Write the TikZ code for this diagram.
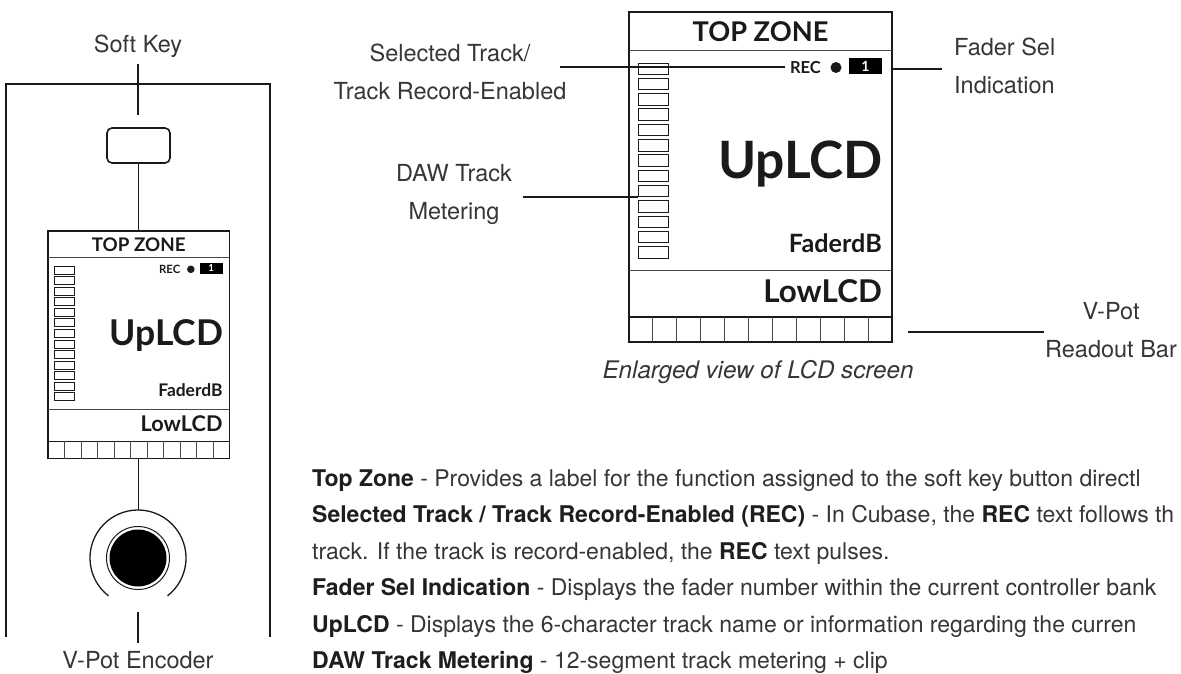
\documentclass[tikz,border=0pt]{standalone}
\usepackage{fontspec}
\setmainfont{TeX Gyre Heros}
\newfontfamily\lcdfont{Lato}
\usetikzlibrary{positioning, calc}
\definecolor{LabelGrey}{HTML}{363636}
\definecolor{BoldGrey}{HTML}{1E1E1E}
\definecolor{LineBlack}{HTML}{1A1A1A}
\tikzset{
    % Callout text
    calloutlabel/.style={
        font=\fontsize{23.5}{38}\selectfont,
        text=LabelGrey,
        inner sep=0pt,
        align=center
    },
    captiontext/.style={
        font=\fontsize{24.2}{24.2}\selectfont\itshape,
        text=LabelGrey,
        inner sep=0pt
    },
    bodytext/.style={
        font=\fontsize{23}{23}\selectfont,
        text=LabelGrey,
        anchor=base west,
        inner sep=0pt
    },
    % Line styles
    calloutline/.style={
        line width=2pt,
        LineBlack
    },
    thinline/.style={
        line width=1pt,
        LineBlack
    },
    frameline/.style={
        line width=2pt,
        LineBlack
    },
    % LCD styles
    lcdframe/.style={
        rectangle,
        draw=LineBlack,
        line width=1.5pt,
        inner sep=0pt,
        outer sep=0pt
    },
    lcdrule/.style={
        line width=0.9pt,
        LineBlack!80
    },
    lcdtext/.style={
        inner sep=0pt,
        text=LineBlack
    },
    meterseg/.style={
        rectangle,
        draw=LineBlack,
        line width=1pt,
        minimum width=30pt,
        minimum height=11.5pt,
        inner sep=0pt,
        outer sep=0pt,
        anchor=north west
    },
    softkeybox/.style={
        rectangle,
        rounded corners=5pt,
        draw=LineBlack,
        line width=1.6pt,
        minimum width=63pt,
        minimum height=35pt
    }
}

% LCD screen, drawn with its top left corner at the origin
\newcommand{\drawlcd}[1]{%
    % Frame
    \node[lcdframe, anchor=north west, minimum width=263pt, minimum height=330pt] (#1frame) at (0,0) {};
    % Top zone
    \draw[lcdrule] (0,38) -- (263,38);
    \node[lcdtext, font=\lcdfont\bfseries\fontsize{27.2}{27.2}\selectfont] (#1top) at (131.5,20) {TOP ZONE};
    % Rec and fader number
    \node[lcdtext, anchor=east, font=\lcdfont\bfseries\fontsize{16.5}{16.5}\selectfont] (#1rec) at (192,56) {REC};
    \node[circle, fill=LineBlack, minimum size=11pt, inner sep=0pt] (#1dot) at (207,55.5) {};
    \node[rectangle, fill=black, minimum width=33pt, minimum height=16pt, inner sep=0pt,
          text=white, font=\lcdfont\bfseries\fontsize{14}{14}\selectfont] (#1num) at (236.5,54) {1};
    % Metering
    \foreach \k in {0,...,12}
        \node[meterseg] (#1seg\k) at (9,51+\k*15.3) {};
    % UpLCD and fader level
    \node[lcdtext, anchor=base east, font=\lcdfont\bfseries\fontsize{51.5}{51.5}\selectfont] (#1up) at (254,166) {UpLCD};
    \node[lcdtext, anchor=base east, font=\lcdfont\bfseries\fontsize{25.2}{25.2}\selectfont] (#1fader) at (253,240) {FaderdB};
    \draw[lcdrule] (0,258) -- (263,258);
    % Lower zone
    \node[lcdtext, anchor=base east, font=\lcdfont\bfseries\fontsize{31.4}{31.4}\selectfont] (#1low) at (253,290) {LowLCD};
    % Readout bar
    \node[lcdframe, anchor=north west, minimum width=263pt, minimum height=25pt] (#1bar) at (0,305) {};
    \foreach \i in {1,...,10}
        \draw[lcdrule] (\i*23.909,305) -- (\i*23.909,330);
}

\begin{document}
\begin{tikzpicture}[x=1pt, y=-1pt]
    \useasboundingbox (0,0) rectangle (1181,673);
    \fill[white] (0,0) rectangle (1181,673);

    % Channel strip
    \draw[frameline] (6,637) -- (6,84) -- (270,84) -- (270,637);

    % Soft key
    \node[calloutlabel] (softlbl) at (138,46) {Soft Key};
    \coordinate (sktop) at (138,64);
    \coordinate (skbot) at (138,115);
    \draw[calloutline] (sktop) -- (skbot);
    \node[softkeybox] (softkey) at (138.5,145.5) {};

    % Small LCD
    \begin{scope}[shift={(48,231)}, scale=0.69, transform shape]
        \drawlcd{small}
    \end{scope}
    \draw[thinline] (softkey.south) -- (softkey.south |- smallframe.north);

    % V-Pot encoder
    \node[circle, fill=black, minimum size=57pt, inner sep=0pt] (knob) at (138,558) {};
    \draw[thinline] (knob.center) circle[radius=31.5];
    \draw[LineBlack, line width=1.3pt] (knob.center) ++(128:48) arc[start angle=128, end angle=412, radius=48];
    \coordinate (ringtop) at ($(knob.center)+(0,-48)$);
    \draw[thinline] (smallbar.south -| ringtop) -- (ringtop);
    \coordinate (enctop) at (138,612);
    \coordinate (encbot) at (138,643);
    \draw[calloutline] (enctop) -- (encbot);
    \node[calloutlabel] (enclbl) at (138,660) {V-Pot Encoder};

    % Enlarged LCD
    \begin{scope}[shift={(629,12)}]
        \drawlcd{big}
    \end{scope}
    \node[captiontext] (caption) at (758,372) {Enlarged view of LCD screen};

    % Callouts
    \node[calloutlabel] (sellbl) at (450,72) {Selected Track/\\Track Record-Enabled};
    \coordinate (selstart) at (560,67);
    \draw[calloutline] (selstart) -- ([xshift=-5pt]bigrec.west |- selstart);

    \node[calloutlabel] (dawlbl) at (454,194) {DAW Track\\Metering};
    \coordinate (dawstart) at (523,197);
    \draw[calloutline] (dawstart) -- (bigseg8.south west |- dawstart);

    \node[calloutlabel, anchor=west, align=left] (faderlbl) at (954,66) {Fader Sel\\Indication};
    \coordinate (faderend) at (942,69);
    \draw[calloutline] (bigframe.east |- faderend) -- (faderend);

    \node[calloutlabel] (vpotlbl) at (1111,330) {V-Pot\\Readout Bar};
    \coordinate (barend) at (1044,332);
    \draw[calloutline] ([xshift=16pt]bigbar.east |- barend) -- (barend);

    % Description
    \node[bodytext] (body1) at (312,486) {\textcolor{BoldGrey}{\bfseries Top Zone} - Provides a label for the function assigned to the soft key button directl};
    \node[bodytext] (body2) at (312,522.5) {\textcolor{BoldGrey}{\bfseries Selected Track / Track Record-Enabled (REC)} - In Cubase, the \textcolor{BoldGrey}{\bfseries REC} text follows th};
    \node[bodytext] (body3) at (312,559) {track. If the track is record-enabled, the \textcolor{BoldGrey}{\bfseries REC} text pulses.};
    \node[bodytext] (body4) at (312,595.5) {\textcolor{BoldGrey}{\bfseries Fader Sel Indication} - Displays the fader number within the current controller bank};
    \node[bodytext] (body5) at (312,632) {\textcolor{BoldGrey}{\bfseries UpLCD} - Displays the 6-character track name or information regarding the curren};
    \node[bodytext] (body6) at (312,668.5) {\textcolor{BoldGrey}{\bfseries DAW Track Metering} - 12-segment track metering + clip};
\end{tikzpicture}
\end{document}
